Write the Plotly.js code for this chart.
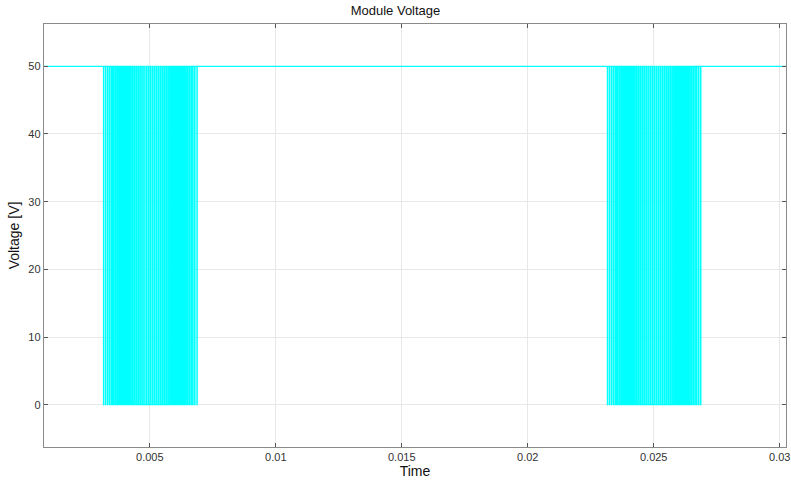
<!DOCTYPE html>
<html>
<head>
<meta charset="utf-8">
<script src="https://cdn.plot.ly/plotly-3.0.1.min.js"></script>
<style>html,body{margin:0;padding:0;background:#fff;}#chart{width:791px;height:481px;}</style>
</head>
<body>
<div id="chart"></div>
<script>
// Module voltage: steady 50 V, with two bursts of switching pulses down to 0 V
var highLevel = 50;
var lowLevel = 0;
var timeStart = 0.0;
var timeEnd = 0.0306;

// Start times of each 0 V pulse, burst 1 (around 0.005 s)
var burst1Starts = [0.00316,0.00324,0.00332,0.00340,0.00348,0.00355,0.00363,0.00371,0.00379,0.00387,0.00395,0.00403,0.00411,0.00418,0.00426,0.00434,0.00442,0.00450,0.00458,0.00466,0.00474,0.00481,0.00489,0.00497,0.00505,0.00513,0.00521,0.00529,0.00537,0.00544,0.00552,0.00560,0.00568,0.00576,0.00584,0.00592,0.00600,0.00607,0.00615,0.00623,0.00631,0.00639,0.00647,0.00655,0.00663,0.00670,0.00678,0.00687];
// Start times of each 0 V pulse, burst 2 (around 0.025 s)
var burst2Starts = [0.02316,0.02324,0.02332,0.02340,0.02348,0.02355,0.02363,0.02371,0.02379,0.02387,0.02395,0.02403,0.02411,0.02418,0.02426,0.02434,0.02442,0.02450,0.02458,0.02466,0.02474,0.02481,0.02489,0.02497,0.02505,0.02513,0.02521,0.02529,0.02537,0.02544,0.02552,0.02560,0.02568,0.02576,0.02584,0.02592,0.02600,0.02607,0.02615,0.02623,0.02631,0.02639,0.02647,0.02655,0.02663,0.02670,0.02678,0.02686];
// Duration of each 0 V pulse (same order as the starts)
var pulseWidths = [0.000012,0.000015,0.000018,0.000021,0.000024,0.000027,0.000030,0.000033,0.000036,0.000039,0.000041,0.000044,0.000046,0.000048,0.000050,0.000052,0.000054,0.000055,0.000056,0.000057,0.000058,0.000058,0.000059,0.000059,0.000059,0.000059,0.000058,0.000058,0.000057,0.000056,0.000055,0.000054,0.000052,0.000050,0.000048,0.000046,0.000044,0.000041,0.000039,0.000036,0.000033,0.000030,0.000027,0.000024,0.000021,0.000018,0.000015,0.000012];

var xTickVals = [0.005,0.01,0.015,0.02,0.025,0.03];
var xTickText = ['0.005','0.01','0.015','0.02','0.025','0.03'];
var yTickVals = [0,10,20,30,40,50];
var yTickText = ['0','10','20','30','40','50'];

// Build step waveform from the pulse lists
var t = [timeStart], v = [highLevel];
function addBurst(starts){
  for (var i=0;i<starts.length;i++){
    var s = starts[i], e = s + pulseWidths[i];
    t.push(s, s, e, e);
    v.push(highLevel, lowLevel, lowLevel, highLevel);
  }
}
addBurst(burst1Starts);
addBurst(burst2Starts);
t.push(timeEnd); v.push(highLevel);

var axisCommon = {
  showline: true, mirror: 'ticks', linecolor: '#8a8a8a', linewidth: 1.2,
  ticks: 'inside', ticklen: 4, tickcolor: '#555555', tickwidth: 1,
  showgrid: true, gridcolor: '#e8e8e8', gridwidth: 1,
  zeroline: false,
  tickfont: {family: 'Liberation Sans, Arial, sans-serif', size: 11, color: '#333333'}
};

var layout = {
  width: 791, height: 481,
  margin: {l: 44, r: 5, t: 24, b: 34},
  paper_bgcolor: '#ffffff', plot_bgcolor: '#ffffff',
  showlegend: false,
  title: {text: 'Module Voltage', x: 0.5, xanchor: 'center', y: 0.988, yanchor: 'top',
          font: {family: 'Liberation Sans, Arial, sans-serif', size: 13, color: '#111111'}},
  xaxis: Object.assign({}, axisCommon, {
    range: [0.0008, 0.03025], tickvals: xTickVals, ticktext: xTickText,
    title: {text: 'Time', standoff: 3, font: {family: 'Liberation Sans, Arial, sans-serif', size: 14, color: '#111111'}}
  }),
  yaxis: Object.assign({}, axisCommon, {
    range: [-6.25, 56.25], tickvals: yTickVals, ticktext: yTickText,
    title: {text: 'Voltage [V]', standoff: 5, font: {family: 'Liberation Sans, Arial, sans-serif', size: 14, color: '#111111'}}
  })
};

Plotly.newPlot('chart', [{
  type: 'scatter', mode: 'lines', x: t, y: v,
  line: {color: '#00ffff', width: 1.2, shape: 'linear'},
  hoverinfo: 'skip'
}], layout, {staticPlot: true, displayModeBar: false});
</script>
</body>
</html>
